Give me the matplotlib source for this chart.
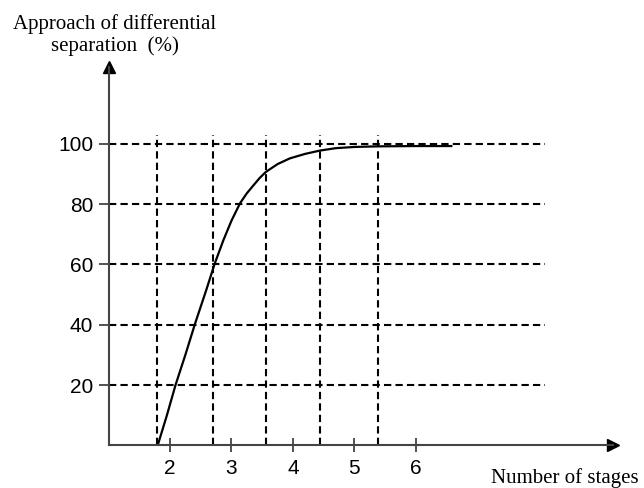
import matplotlib
matplotlib.use("Agg")
import matplotlib.pyplot as plt

# approach of differential separation vs number of stages
stages = [1.80, 1.95, 2.09, 2.25, 2.41, 2.59, 2.73, 2.87, 3.00, 3.14, 3.25,
          3.36, 3.46, 3.56, 3.75, 3.95, 4.20, 4.44, 4.70, 5.00, 5.37, 6.00, 6.58]
approach = [0, 10, 20, 30, 40.5, 51.5, 60.4, 68.1, 74.5, 80.3, 83.6,
            86.3, 88.7, 90.7, 93.3, 95.2, 96.7, 97.8, 98.6, 99.0, 99.2, 99.3, 99.3]

x_ticks = [2, 3, 4, 5, 6]
y_ticks = [20, 40, 60, 80, 100]
stage_marks = [1.79, 2.70, 3.56, 4.45, 5.38]   # vertical dashed guides

serif = "Liberation Serif"
sans = "Liberation Sans"

fig = plt.figure(figsize=(6.44, 4.88), dpi=100)
ax = fig.add_axes([0.1686, 0.0875, 0.783, 0.775])
ax.set_xlim(1, 9.21)
ax.set_ylim(0, 125.5)

for s in ["top", "right"]:
    ax.spines[s].set_visible(False)
for s in ["left", "bottom"]:
    ax.spines[s].set_color("#444444")
    ax.spines[s].set_linewidth(1.5)

# arrow heads on the axes
ax.plot(1, 0, ">", color="black", ms=9, transform=ax.get_yaxis_transform(), clip_on=False)
ax.plot(1, 1, "^", color="black", ms=9, transform=ax.get_xaxis_transform(), clip_on=False)

# dashed guide lines
dash = dict(color="black", lw=1.5, linestyle=(0, (3.5, 2)))
ax.hlines(y_ticks, 1, 8.1, **dash)
ax.vlines(stage_marks, 0, 102.9, **dash)

ax.plot(stages, approach, color="black", lw=1.6)

ax.set_xticks(x_ticks)
ax.set_yticks(y_ticks)
ax.tick_params(axis="x", direction="inout", length=10, width=1.3, color="#444444", pad=5)
ax.tick_params(axis="y", direction="out", length=7, width=1.3, color="#444444", pad=4)
for lab in ax.get_xticklabels() + ax.get_yticklabels():
    lab.set_fontfamily(sans)
    lab.set_fontsize(15)

fig.text(0.1786, 0.928, "Approach of differential\nseparation  (%)", ha="center", va="center",
         family=serif, fontsize=15, linespacing=1.2)
fig.text(0.877, 0.021, "Number of stages", ha="center", va="center",
         family=serif, fontsize=15)

fig.savefig("out.png", dpi=100)
